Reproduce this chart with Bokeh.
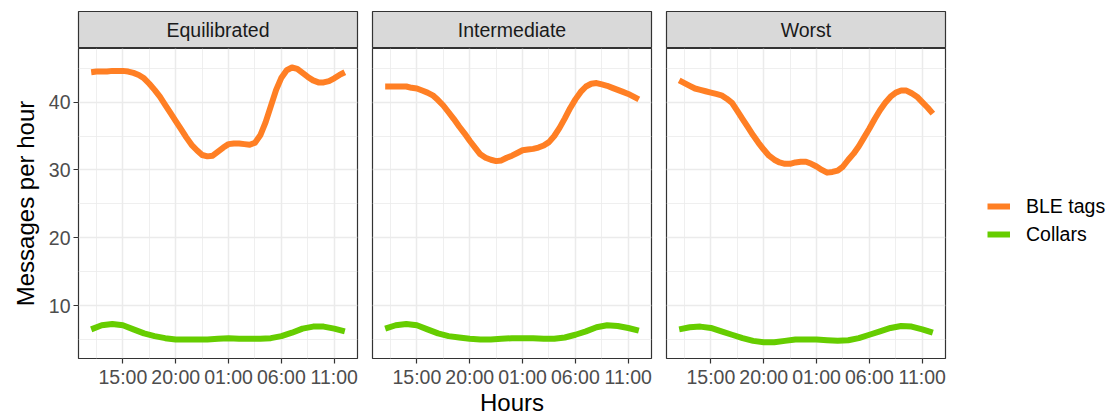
from bokeh.plotting import figure
from bokeh.layouts import row, column
from bokeh.models import FixedTicker, Range1d, Legend, LegendItem
from bokeh.embed import file_html
from bokeh.resources import INLINE
from bokeh.core.properties import value

FONT = "Liberation Sans"
ORANGE = "#FF7F24"
GREEN = "#66CD00"

# ---------------- data ----------------
panels = ["Equilibrated", "Intermediate", "Worst"]
series_names = ["BLE tags", "Collars"]

# hours since midnight of day 1 (12 = 12:00, 36 = 12:00 next day)
hours_half = [12 + 0.5 * k for k in range(49)]   # BLE curves, read every 30 min
hours = list(range(12, 37))                      # collar curves, read every hour

tick_hours = [15, 20, 25, 30, 35]
tick_labels = ["15:00", "20:00", "01:00", "06:00", "11:00"]
minor_hours = [12.5, 17.5, 22.5, 27.5, 32.5]

y_ticks = [10, 20, 30, 40]
y_minor = [5, 15, 25, 35, 45]

ble_equilibrated = [44.4, 44.5, 44.5, 44.5, 44.6, 44.6, 44.6, 44.5, 44.3, 44.0,
                    43.5, 42.7, 41.8, 40.8, 39.6, 38.4, 37.2, 36.0, 34.8, 33.7,
                    32.9, 32.2, 32.0, 32.1, 32.7, 33.3, 33.8, 33.9, 33.9, 33.8,
                    33.7, 34.0, 35.1, 37.0, 39.4, 41.8, 43.6, 44.7, 45.1, 44.9,
                    44.3, 43.7, 43.2, 42.9, 42.9, 43.1, 43.5, 44.0, 44.4]
ble_intermediate = [42.3, 42.3, 42.3, 42.3, 42.3, 42.1, 42.0, 41.7, 41.4, 41.0,
                    40.3, 39.5, 38.5, 37.5, 36.4, 35.4, 34.3, 33.3, 32.3, 31.8,
                    31.5, 31.3, 31.4, 31.8, 32.1, 32.5, 32.9, 33.0, 33.1, 33.3,
                    33.6, 34.1, 35.0, 36.2, 37.6, 39.1, 40.4, 41.5, 42.3, 42.7,
                    42.8, 42.6, 42.4, 42.1, 41.8, 41.5, 41.2, 40.8, 40.4]
ble_worst = [43.2, 42.8, 42.4, 42.0, 41.8, 41.6, 41.4, 41.2, 41.0, 40.5,
             39.9, 38.7, 37.5, 36.3, 35.1, 34.0, 33.0, 32.1, 31.5, 31.1,
             30.9, 30.9, 31.1, 31.2, 31.2, 30.9, 30.5, 30.0, 29.6, 29.7,
             29.9, 30.5, 31.5, 32.4, 33.5, 34.8, 36.1, 37.5, 38.8, 39.9,
             40.8, 41.4, 41.7, 41.7, 41.3, 40.8, 40.0, 39.2, 38.3]

collars_equilibrated = [6.5, 7.1, 7.3, 7.1, 6.5, 5.9, 5.5, 5.2, 5.0, 5.0, 5.0, 5.0,
                        5.1, 5.2, 5.1, 5.1, 5.1, 5.2, 5.5, 6.0, 6.6, 6.9, 6.9, 6.6, 6.2]
collars_intermediate = [6.6, 7.1, 7.3, 7.1, 6.5, 5.9, 5.5, 5.3, 5.1, 5.0, 5.0, 5.1,
                        5.2, 5.2, 5.2, 5.1, 5.1, 5.3, 5.7, 6.2, 6.8, 7.1, 7.0, 6.7, 6.3]
collars_worst = [6.5, 6.8, 6.9, 6.7, 6.2, 5.7, 5.2, 4.8, 4.6, 4.6, 4.8, 5.0,
                 5.0, 5.0, 4.9, 4.8, 4.9, 5.2, 5.7, 6.2, 6.7, 7.0, 6.9, 6.5, 6.0]

ble_series = [ble_equilibrated, ble_intermediate, ble_worst]
collar_series = [collars_equilibrated, collars_intermediate, collars_worst]

# ---------------- layout constants ----------------
FRAME_W = 279
FRAME_H = 310
STRIP_H = 37
TOP = 11
X_RANGE = (10.8, 37.2)
Y_RANGE = (2.2, 47.9)


def make_panel(i):
    left = 78 if i == 0 else 11
    right = 4

    strip = figure(frame_width=FRAME_W, frame_height=STRIP_H,
                   min_border_left=left, min_border_right=right,
                   min_border_top=TOP, min_border_bottom=0,
                   x_range=Range1d(0, 1), y_range=Range1d(0, 1),
                   x_axis_type=None, y_axis_type=None,
                   toolbar_location=None, output_backend="svg",
                   background_fill_color="#D9D9D9", border_fill_color="white",
                   outline_line_color="#333333", outline_line_width=1.2)
    strip.grid.visible = False
    strip.text(x=[0.5], y=[0.5], text=[panels[i]], text_align="center",
               text_baseline="middle", text_font=value(FONT),
               text_font_size="19.5px", text_color="#1A1A1A")

    p = figure(frame_width=FRAME_W, frame_height=FRAME_H,
               min_border_left=left, min_border_right=right,
               min_border_top=0, min_border_bottom=4,
               x_range=Range1d(*X_RANGE), y_range=Range1d(*Y_RANGE),
               toolbar_location=None, output_backend="svg",
               background_fill_color="white", border_fill_color="white",
               outline_line_color="#333333", outline_line_width=1.2)

    p.line(hours_half, ble_series[i], line_color=ORANGE, line_width=6, line_join="round")
    p.line(hours, collar_series[i], line_color=GREEN, line_width=6, line_join="round")

    xt = FixedTicker(ticks=tick_hours, minor_ticks=minor_hours)
    yt = FixedTicker(ticks=y_ticks, minor_ticks=y_minor)
    p.xaxis.ticker = xt
    p.yaxis.ticker = yt
    p.xgrid.ticker = xt
    p.ygrid.ticker = yt
    p.xaxis.major_label_overrides = {h: lab for h, lab in zip(tick_hours, tick_labels)}

    for ax in p.axis:
        ax.axis_line_color = None
        ax.major_tick_line_color = "#333333"
        ax.major_tick_line_width = 1.2
        ax.major_tick_out = 5
        ax.major_tick_in = 0
        ax.minor_tick_line_color = None
        ax.major_label_text_font = FONT
        ax.major_label_text_font_size = "19.5px"
        ax.major_label_text_color = "#4D4D4D"
        ax.axis_label_text_font = FONT
        ax.axis_label_text_font_size = "24px"
        ax.axis_label_text_font_style = "normal"
        ax.axis_label_text_color = "black"

    p.xaxis.major_label_standoff = 2
    if i == 1:
        p.xaxis.axis_label = "Hours"
        p.xaxis.axis_label_standoff = -2

    if i == 0:
        p.yaxis.axis_label = "Messages per hour"
        p.yaxis.major_label_standoff = 3
        p.yaxis.axis_label_standoff = 7
    else:
        p.yaxis.visible = False

    p.grid.grid_line_color = "#EBEBEB"
    p.grid.grid_line_width = 1.5
    p.grid.minor_grid_line_color = "#EBEBEB"
    p.grid.minor_grid_line_width = 0.8

    return column(strip, p, spacing=0)


cols = [make_panel(i) for i in range(3)]

# legend panel: its two renderers reuse the data but lie outside the visible ranges
lf = figure(width=161, height=400, min_border=0,
            x_range=Range1d(0, 1), y_range=Range1d(0, 1),
            x_axis_type=None, y_axis_type=None,
            toolbar_location=None, output_backend="svg",
            outline_line_color=None, background_fill_color="white",
            border_fill_color="white")
lf.grid.visible = False
r1 = lf.line(hours_half, ble_equilibrated, line_color=ORANGE, line_width=6)
r2 = lf.line(hours, collars_equilibrated, line_color=GREEN, line_width=6)
legend = Legend(items=[LegendItem(label=series_names[0], renderers=[r1]),
                       LegendItem(label=series_names[1], renderers=[r2])],
                location=(38, 152), glyph_width=23, glyph_height=28,
                label_standoff=16, spacing=0, padding=0, margin=0,
                border_line_color=None, background_fill_alpha=0,
                label_text_font=FONT, label_text_font_size="19.5px",
                label_text_color="black", label_height=28)
lf.add_layout(legend)

layout = row(*cols, lf, spacing=0)

open("out.html", "w").write(file_html(layout, INLINE))
